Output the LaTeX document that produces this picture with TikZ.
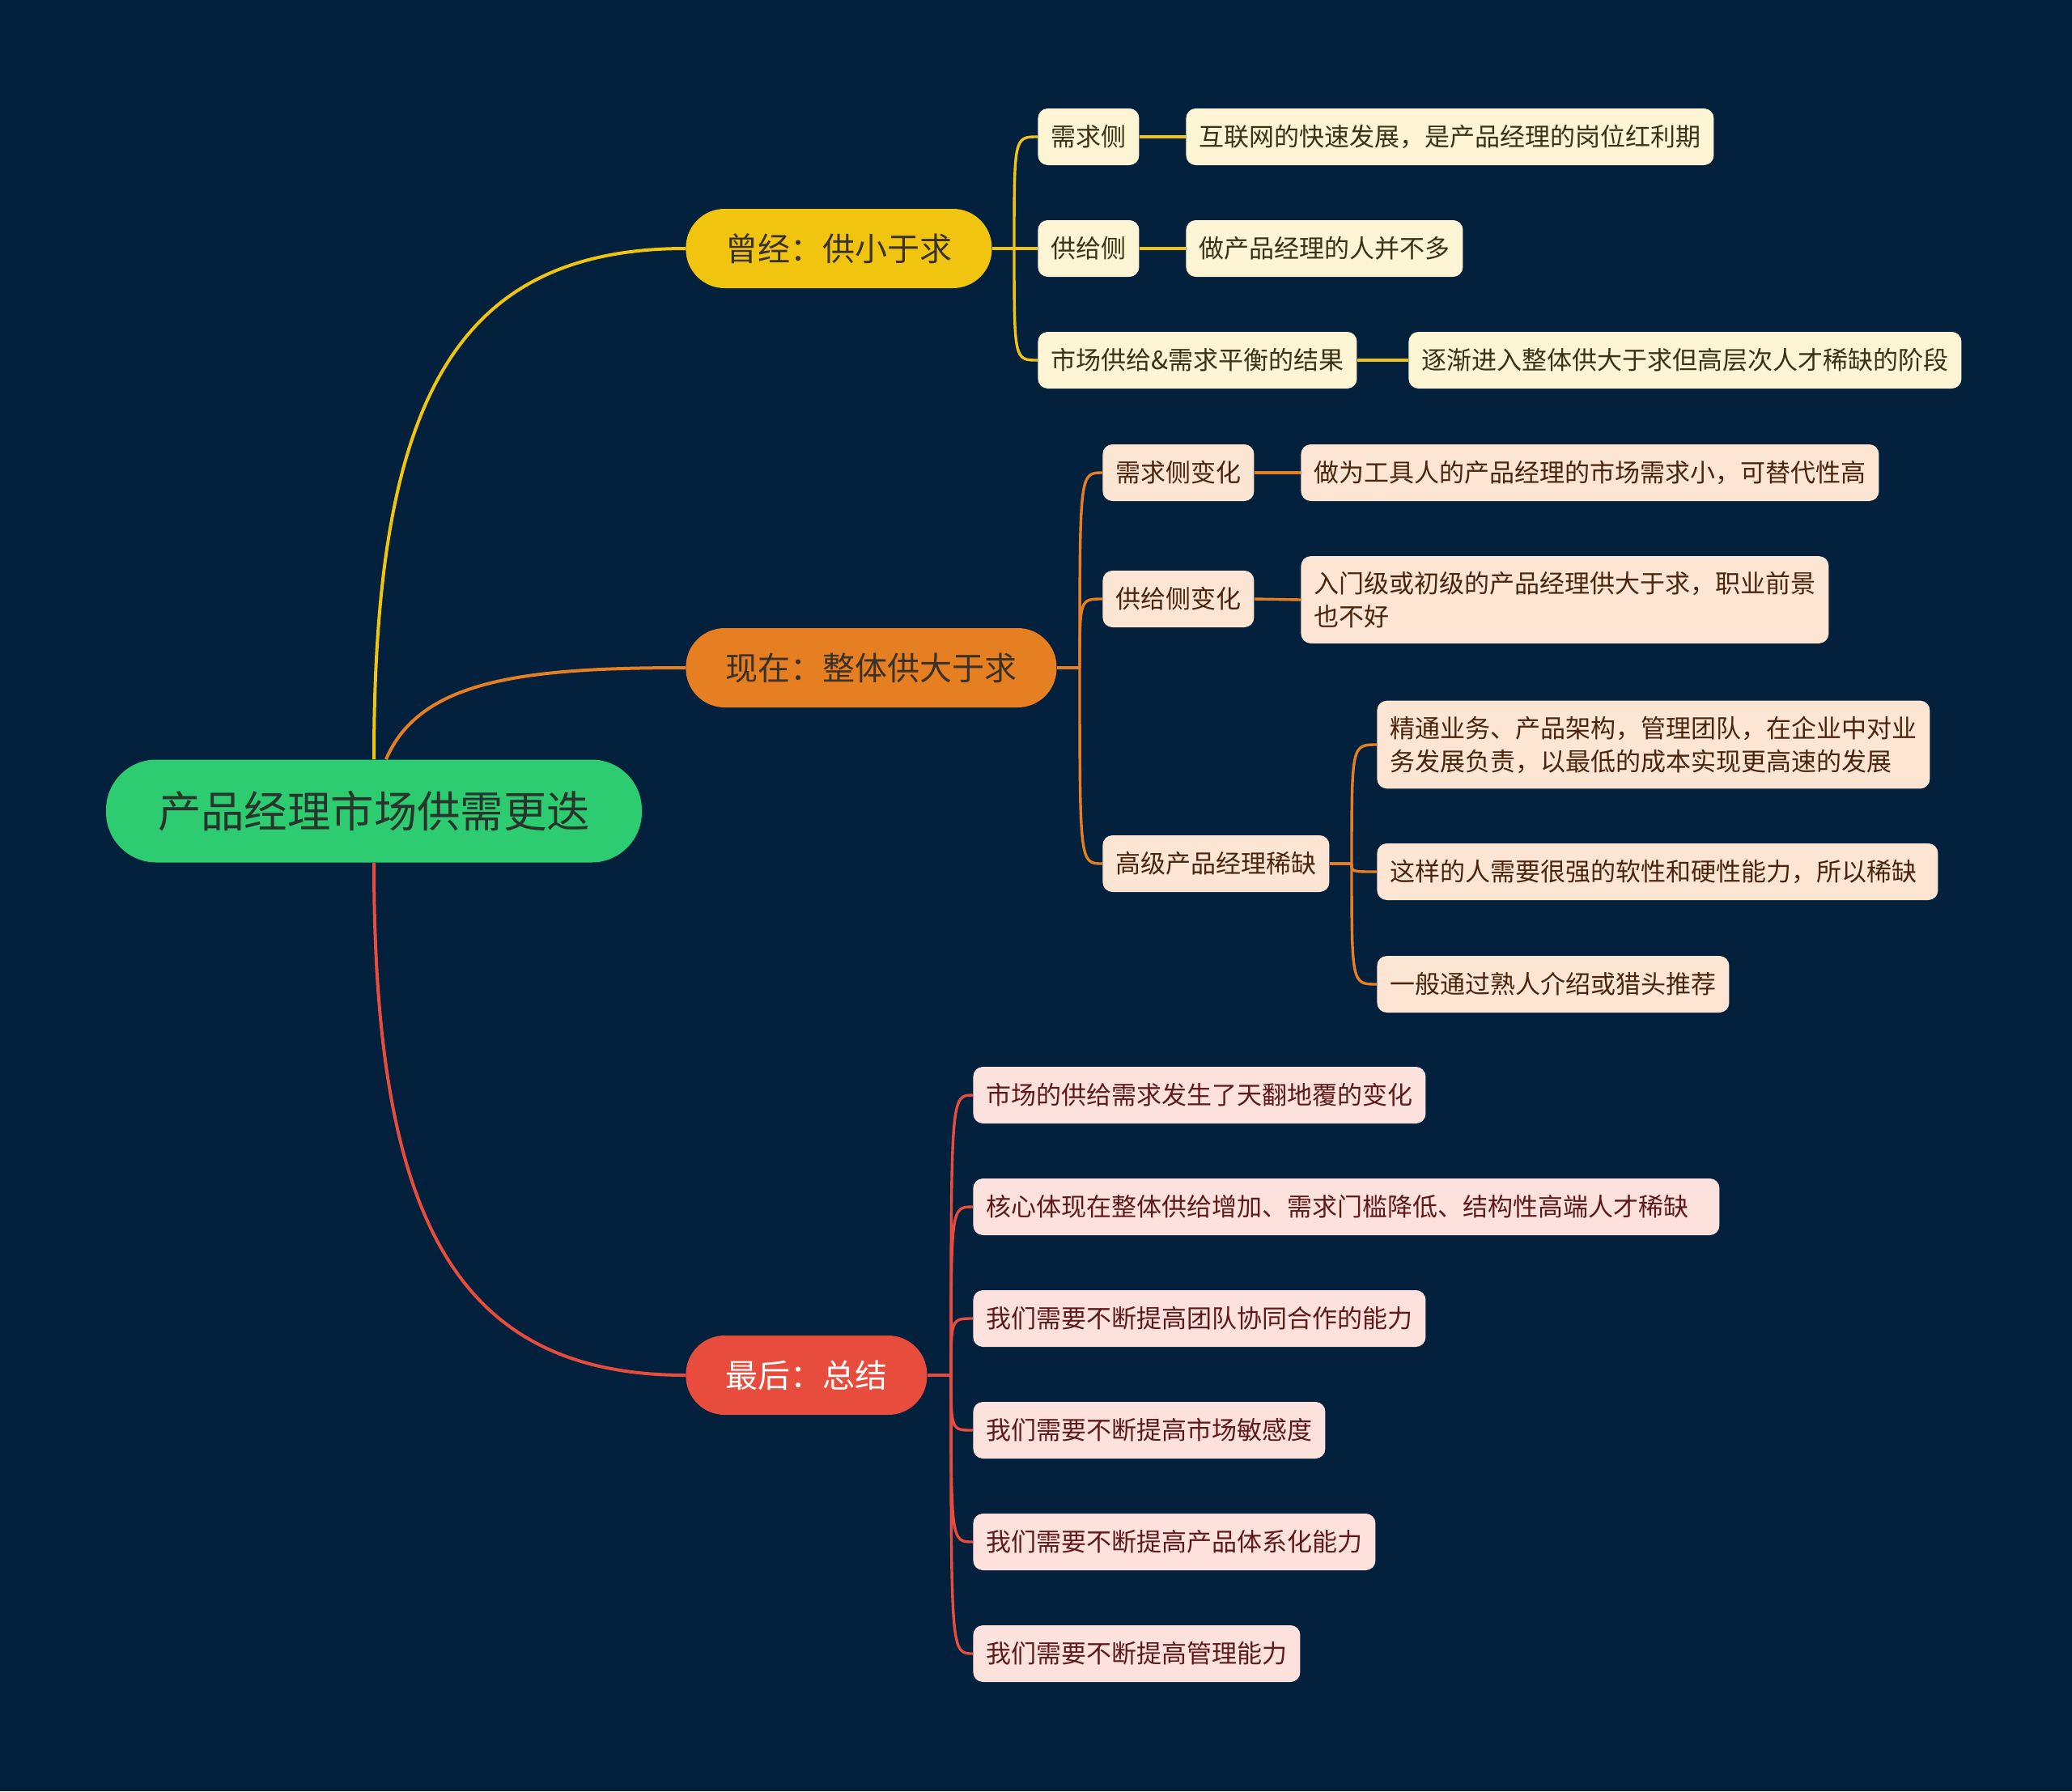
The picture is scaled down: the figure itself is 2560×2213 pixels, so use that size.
\documentclass[tikz,border=0pt]{standalone}
\usepackage{fontspec}
\setmainfont{Noto Sans CJK SC}
\definecolor{bgc}{HTML}{03203C}
\definecolor{rootc}{HTML}{2ECC71}
\definecolor{roottext}{HTML}{28342C}
\definecolor{yelc}{HTML}{F1C40F}
\definecolor{orac}{HTML}{E67E22}
\definecolor{redc}{HTML}{E74C3C}
\definecolor{yfill}{HTML}{FDF5D3}
\definecolor{ofill}{HTML}{FCE6D3}
\definecolor{rfill}{HTML}{FDE1DD}
\definecolor{ytext}{HTML}{3B3214}
\definecolor{otext}{HTML}{4A250E}
\definecolor{rtext}{HTML}{5E1A1A}
\definecolor{lonetext}{HTML}{3A3128}
\begin{document}
\begin{tikzpicture}[x=0.5pt,y=-0.5pt,
  every node/.style={font=\fontsize{15.5}{20.5}\selectfont},
  rootbox/.style={fill=rootc, text=roottext, rounded corners=31pt, minimum height=63.5pt, inner xsep=32pt, font=\fontsize{26.7}{30}\selectfont},
  lone/.style={rounded corners=24pt, minimum height=49pt, inner xsep=24.5pt, font=\fontsize{20}{24}\selectfont, anchor=west},
  ltwo/.style={rounded corners=6pt, minimum height=35pt, inner xsep=8pt, inner ysep=8pt, align=left, anchor=west},
  twoline/.style={inner ysep=9.5pt},
  ybox/.style={ltwo, fill=yfill, text=ytext},
  obox/.style={ltwo, fill=ofill, text=otext},
  rbox/.style={ltwo, fill=rfill, text=rtext},
  ycon/.style={draw=yelc, line width=1.7pt},
  ocon/.style={draw=orac, line width=1.7pt},
  rcon/.style={draw=redc, line width=1.7pt},
  maincon/.style={line width=2pt}
]
\fill[bgc] (0,0) rectangle (2560,2213);
\useasboundingbox (0,0) rectangle (2560,2213);

% root and level 1
\node[rootbox] (root) at (462,1002) {产品经理市场供需更迭};
\node[lone, fill=yelc, text=lonetext] (Y1) at (847,307) {曾经：供小于求};
\node[lone, fill=orac, text=lonetext] (O1) at (847,825) {现在：整体供大于求};
\node[lone, fill=redc, text=white] (R1) at (847,1699) {最后：总结};

% yellow branch
\node[ybox] (Y21) at (1282,169) {需求侧};
\node[ybox] (Y22) at (1282,307) {供给侧};
\node[ybox] (Y23) at (1282,445) {市场供给\&需求平衡的结果};
\node[ybox] (Y31) at (1465,169) {互联网的快速发展，是产品经理的岗位红利期};
\node[ybox] (Y32) at (1465,307) {做产品经理的人并不多};
\node[ybox] (Y33) at (1740,445) {逐渐进入整体供大于求但高层次人才稀缺的阶段};

% orange branch
\node[obox] (O21) at (1362,584) {需求侧变化};
\node[obox] (O22) at (1362,740) {供给侧变化};
\node[obox] (O23) at (1362,1067) {高级产品经理稀缺};
\node[obox] (O31) at (1607,584) {做为工具人的产品经理的市场需求小，可替代性高};
\node[obox, twoline] (O32) at (1607,741) {入门级或初级的产品经理供大于求，职业前景\\也不好};
\node[obox, twoline] (O41) at (1701,920) {精通业务、产品架构，管理团队，在企业中对业\\务发展负责，以最低的成本实现更高速的发展};
\node[obox, text width=330.5pt] (O42) at (1701,1077) {这样的人需要很强的软性和硬性能力，所以稀缺};
\node[obox] (O43) at (1701,1216) {一般通过熟人介绍或猎头推荐};

% red branch
\node[rbox] (R21) at (1202,1353) {市场的供给需求发生了天翻地覆的变化};
\node[rbox, text width=445pt] (R22) at (1202,1491) {核心体现在整体供给增加、需求门槛降低、结构性高端人才稀缺};
\node[rbox] (R23) at (1202,1629) {我们需要不断提高团队协同合作的能力};
\node[rbox] (R24) at (1202,1767) {我们需要不断提高市场敏感度};
\node[rbox] (R25) at (1202,1905) {我们需要不断提高产品体系化能力};
\node[rbox] (R26) at (1202,2043) {我们需要不断提高管理能力};

% main connectors
\draw[maincon, draw=yelc] (root.north) .. controls +(0,-439) and +(-287,0) .. (Y1.west);
\draw[maincon, draw=orac] ([xshift=7.5pt]root.north) .. controls +(42,-99) and +(-197,0) .. (O1.west);
\draw[maincon, draw=redc] (root.south) .. controls +(0,434) and +(-287,0) .. (R1.west);

% yellow trunk
\coordinate (yt) at (1253,307);
\draw[ycon] (Y1.east) -- (yt);
\foreach \c in {Y21,Y22,Y23}{
  \draw[ycon] (yt) .. controls (yt |- \c.west) and (yt |- \c.west) .. (\c.west);
}
\draw[ycon] (Y21.east) -- (Y31.west);
\draw[ycon] (Y22.east) -- (Y32.west);
\draw[ycon] (Y23.east) -- (Y33.west);

% orange trunk
\coordinate (ot) at (1334,825);
\draw[ocon] (O1.east) -- (ot);
\foreach \c in {O21,O22,O23}{
  \draw[ocon] (ot) .. controls (ot |- \c.west) and (ot |- \c.west) .. (\c.west);
}
\draw[ocon] (O21.east) -- (O31.west);
\draw[ocon] (O22.east) -- (O32.west);
\coordinate (ost) at (1670,1067);
\draw[ocon] (O23.east) -- (ost);
\foreach \c in {O41,O42,O43}{
  \draw[ocon] (ost) .. controls (ost |- \c.west) and (ost |- \c.west) .. (\c.west);
}

% red trunk
\coordinate (rt) at (1175,1699);
\draw[rcon] (R1.east) -- (rt);
\foreach \c in {R21,R22,R23,R24,R25,R26}{
  \draw[rcon] (rt) .. controls (rt |- \c.west) and (rt |- \c.west) .. (\c.west);
}
\end{tikzpicture}
\end{document}
